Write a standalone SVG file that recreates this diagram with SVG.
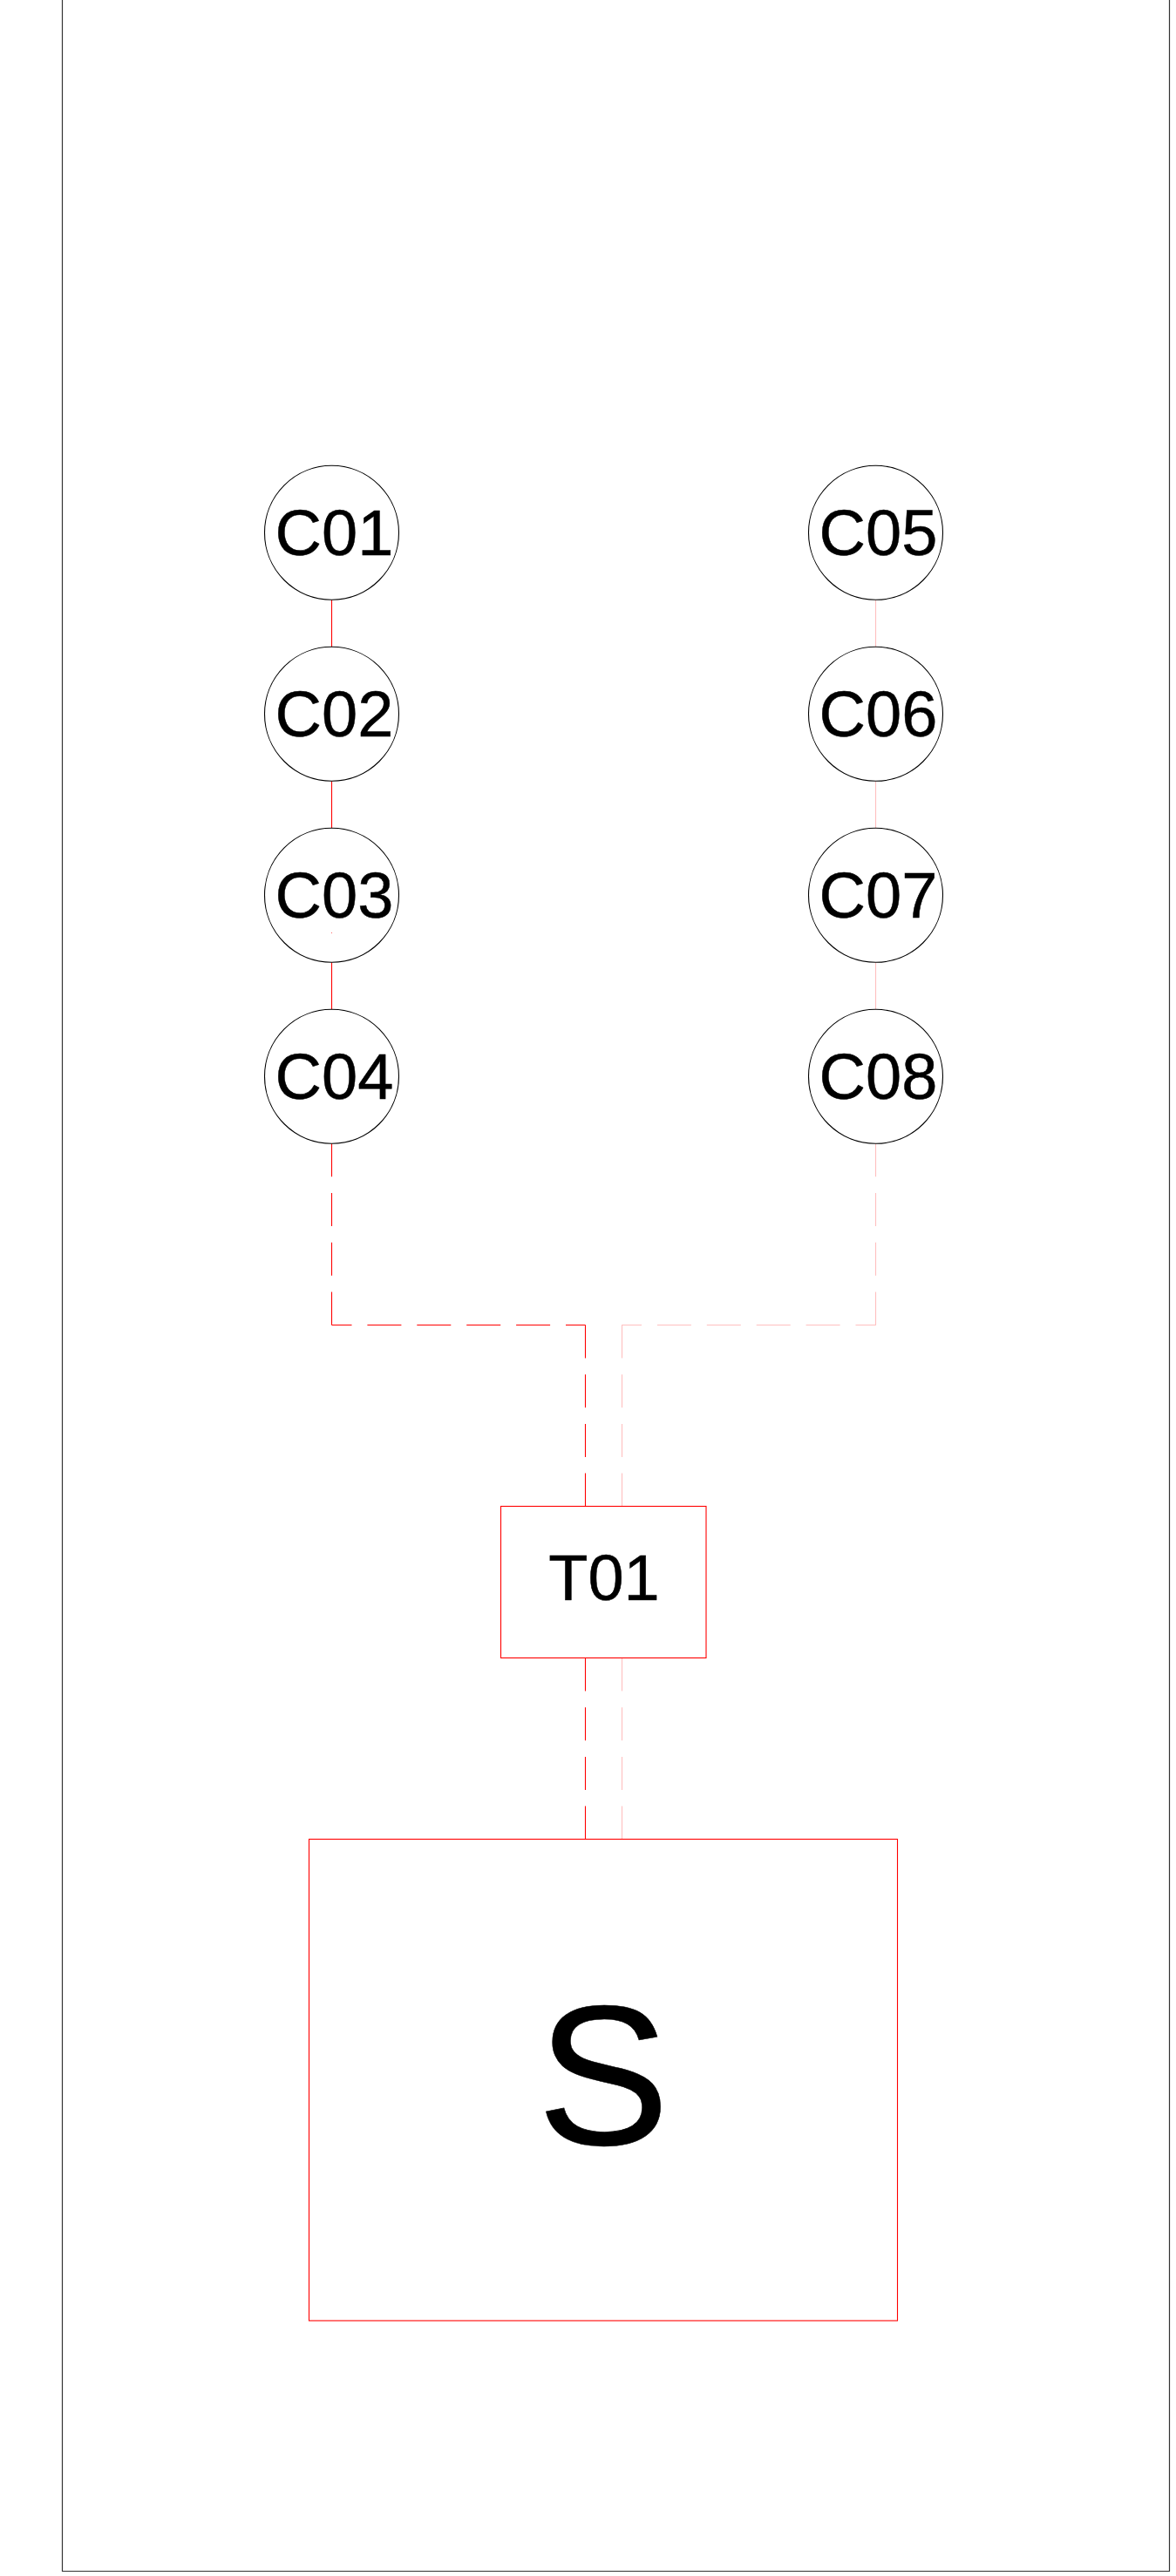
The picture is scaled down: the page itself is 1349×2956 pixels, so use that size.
<svg xmlns="http://www.w3.org/2000/svg" width="1349" height="2956" viewBox="0 0 1349 2956">
  <style>
    .frame { fill: none; stroke: #333333; stroke-width: 1.2; }
    .circ { fill: #ffffff; stroke: #000000; stroke-width: 1.1; }
    .box { fill: #ffffff; stroke: #ff0000; stroke-width: 1.1; }
    .lbl { font-family: "Liberation Sans", Arial, sans-serif; fill: #000000; stroke: #000000; stroke-width: 0.5; text-anchor: middle; }
    .c { font-size: 74px; }
    .big { font-size: 228px; }
    .red { stroke: #ff0000; stroke-width: 1.1; fill: none; }
    .pink { stroke: #ff0000; stroke-opacity: 0.25; stroke-width: 1.1; fill: none; }
    .dv { stroke-dasharray: 38 18.7; }
    .dh { stroke-dasharray: 39 17.9; stroke-dashoffset: 16; }
  </style>
  <rect x="0" y="0" width="1349" height="2956" fill="#ffffff"/>
  <path class="frame" d="M71.5,0 V2950.5 H1341.5 V0"/>

  <g id="connectors">
    <line class="red" x1="380.5" y1="688.3" x2="380.5" y2="742.3"/>
    <line class="red" x1="380.5" y1="896.3" x2="380.5" y2="950.3"/>
    <line class="red" x1="380.5" y1="1104.3" x2="380.5" y2="1158.3"/>
    <line class="pink" x1="1004.5" y1="688.3" x2="1004.5" y2="742.3"/>
    <line class="pink" x1="1004.5" y1="896.3" x2="1004.5" y2="950.3"/>
    <line class="pink" x1="1004.5" y1="1104.3" x2="1004.5" y2="1158.3"/>
    <line class="red dv" x1="380.5" y1="1312.3" x2="380.5" y2="1520.5"/>
    <line class="red dh" x1="380.5" y1="1520.5" x2="671.5" y2="1520.5"/>
    <line class="red dv" x1="671.5" y1="1520.5" x2="671.5" y2="1728.5"/>
    <line class="red dv" x1="671.5" y1="1902.5" x2="671.5" y2="2110.5"/>
    <line class="pink dv" x1="1004.5" y1="1312.3" x2="1004.5" y2="1520.5"/>
    <line class="pink dh" x1="1004.5" y1="1520.5" x2="713.5" y2="1520.5"/>
    <line class="pink dv" x1="713.5" y1="1520.5" x2="713.5" y2="1728.5"/>
    <line class="pink dv" x1="713.5" y1="1902.5" x2="713.5" y2="2110.5"/>
  </g>

  <g id="C01"><circle class="circ" cx="380.5" cy="611.3" r="77"/><text class="lbl c" x="383.5" y="636.7">C01</text></g>
  <g id="C02"><circle class="circ" cx="380.5" cy="819.3" r="77"/><text class="lbl c" x="383.5" y="844.7">C02</text></g>
  <g id="C03"><circle class="circ" cx="380.5" cy="1027.3" r="77"/><text class="lbl c" x="383.5" y="1052.7">C03</text><rect x="380" y="1070" width="1" height="1" fill="#ff0000" fill-opacity="0.6"/></g>
  <g id="C04"><circle class="circ" cx="380.5" cy="1235.3" r="77"/><text class="lbl c" x="383.5" y="1260.7">C04</text></g>
  <g id="C05"><circle class="circ" cx="1004.5" cy="611.3" r="77"/><text class="lbl c" x="1007.5" y="636.7">C05</text></g>
  <g id="C06"><circle class="circ" cx="1004.5" cy="819.3" r="77"/><text class="lbl c" x="1007.5" y="844.7">C06</text></g>
  <g id="C07"><circle class="circ" cx="1004.5" cy="1027.3" r="77"/><text class="lbl c" x="1007.5" y="1052.7">C07</text></g>
  <g id="C08"><circle class="circ" cx="1004.5" cy="1235.3" r="77"/><text class="lbl c" x="1007.5" y="1260.7">C08</text></g>

  <g id="T01"><rect class="box" x="574.5" y="1728.5" width="235.5" height="174"/><text class="lbl c" x="693" y="1835.7">T01</text></g>
  <g id="S"><rect class="box" x="354.5" y="2110.5" width="675" height="552.5"/><text class="lbl big" x="692" y="2461">S</text></g>
</svg>
